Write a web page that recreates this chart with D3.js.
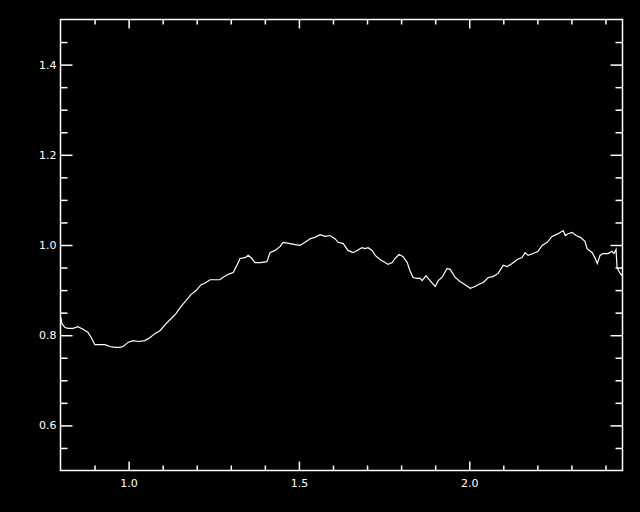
<!DOCTYPE html>
<html>
<head>
<meta charset="utf-8">
<script src="https://cdn.jsdelivr.net/npm/d3@7"></script>
<style>
  html, body { margin: 0; padding: 0; background: #000; }
  svg { display: block; }
</style>
</head>
<body>
<script>
// ---- data ----
const xValues = [0.801,0.804,0.813,0.822,0.837,0.851,0.866,0.881,0.890,0.901,0.916,0.931,0.945,0.960,0.975,0.984,0.998,1.013,1.028,1.048,1.063,1.078,1.092,1.108,1.125,1.139,1.154,1.169,1.183,1.198,1.213,1.224,1.239,1.254,1.268,1.277,1.292,1.307,1.318,1.327,1.342,1.351,1.362,1.371,1.386,1.406,1.415,1.430,1.445,1.453,1.474,1.489,1.503,1.518,1.533,1.547,1.562,1.577,1.591,1.606,1.615,1.630,1.644,1.659,1.671,1.685,1.694,1.703,1.715,1.724,1.738,1.753,1.762,1.774,1.782,1.794,1.806,1.818,1.826,1.835,1.847,1.856,1.862,1.873,1.885,1.900,1.909,1.920,1.935,1.944,1.959,1.973,1.988,2.003,2.017,2.026,2.041,2.056,2.070,2.085,2.100,2.111,2.126,2.141,2.155,2.164,2.173,2.188,2.202,2.214,2.229,2.243,2.255,2.261,2.276,2.282,2.290,2.302,2.314,2.326,2.340,2.346,2.361,2.370,2.376,2.384,2.393,2.408,2.419,2.425,2.431,2.434,2.443,2.449];
const yValues = [0.839,0.826,0.817,0.815,0.815,0.819,0.813,0.806,0.795,0.779,0.779,0.779,0.775,0.773,0.773,0.775,0.784,0.788,0.786,0.788,0.795,0.804,0.810,0.824,0.837,0.848,0.864,0.877,0.890,0.899,0.912,0.915,0.923,0.923,0.923,0.928,0.935,0.939,0.955,0.970,0.972,0.977,0.970,0.961,0.961,0.963,0.983,0.988,0.997,1.006,1.003,1.001,0.999,1.006,1.014,1.017,1.023,1.019,1.021,1.014,1.006,1.003,0.988,0.983,0.988,0.994,0.992,0.994,0.988,0.977,0.968,0.961,0.957,0.961,0.970,0.979,0.974,0.961,0.943,0.928,0.926,0.926,0.921,0.932,0.921,0.908,0.921,0.928,0.948,0.946,0.928,0.919,0.912,0.904,0.908,0.912,0.917,0.928,0.930,0.937,0.955,0.952,0.959,0.968,0.972,0.983,0.977,0.981,0.986,0.999,1.006,1.019,1.023,1.025,1.032,1.021,1.025,1.028,1.021,1.017,1.008,0.992,0.983,0.970,0.959,0.977,0.981,0.981,0.986,0.981,0.990,0.950,0.937,0.932];

const xMajorTicks = [1.0, 1.5, 2.0];
const xMinorTicks = [0.9,1.1,1.2,1.3,1.4,1.6,1.7,1.8,1.9,2.1,2.2,2.3,2.4];
const yMajorTicks = [0.6, 0.8, 1.0, 1.2, 1.4];
const yMinorTicks = [0.55,0.65,0.7,0.75,0.85,0.9,0.95,1.05,1.1,1.15,1.25,1.3,1.35,1.45];

// ---- layout ----
const W = 640, H = 512;
const L = 60.5, R = 622.5, T = 19.5, B = 470.5;

const svg = d3.select("body").append("svg")
  .attr("width", W).attr("height", H)
  .style("background", "#000");

const x = d3.scaleLinear().domain([0.8, 2.45]).range([L, R]);
const y = d3.scaleLinear().domain([0.5, 1.5]).range([B, T]);

const fmt = d3.format(".1f");
const font = "'DejaVu Sans', sans-serif";

function styleAxis(g) {
  g.select(".domain").remove();
  g.selectAll("line").attr("stroke", "#fff").attr("stroke-width", 1.5);
  g.selectAll("text").attr("fill", "#fff").style("font-family", font).style("font-size", "11px");
}

// bottom axis
svg.append("g").attr("transform", `translate(0,${B})`)
  .call(d3.axisBottom(x).tickValues(xMajorTicks).tickSize(-9).tickPadding(9).tickFormat(fmt))
  .call(styleAxis);
svg.append("g").attr("transform", `translate(0,${B})`)
  .call(d3.axisBottom(x).tickValues(xMinorTicks).tickSize(-5).tickFormat(""))
  .call(styleAxis);
// top axis
svg.append("g").attr("transform", `translate(0,${T})`)
  .call(d3.axisTop(x).tickValues(xMajorTicks).tickSize(-9).tickFormat(""))
  .call(styleAxis);
svg.append("g").attr("transform", `translate(0,${T})`)
  .call(d3.axisTop(x).tickValues(xMinorTicks).tickSize(-5).tickFormat(""))
  .call(styleAxis);
// left axis
svg.append("g").attr("transform", `translate(${L},0)`)
  .call(d3.axisLeft(y).tickValues(yMajorTicks).tickSize(-12).tickPadding(4).tickFormat(fmt))
  .call(styleAxis);
svg.append("g").attr("transform", `translate(${L},0)`)
  .call(d3.axisLeft(y).tickValues(yMinorTicks).tickSize(-7).tickFormat(""))
  .call(styleAxis);
// right axis
svg.append("g").attr("transform", `translate(${R},0)`)
  .call(d3.axisRight(y).tickValues(yMajorTicks).tickSize(-12).tickFormat(""))
  .call(styleAxis);
svg.append("g").attr("transform", `translate(${R},0)`)
  .call(d3.axisRight(y).tickValues(yMinorTicks).tickSize(-7).tickFormat(""))
  .call(styleAxis);

// frame
svg.append("rect")
  .attr("x", L).attr("y", T).attr("width", R - L).attr("height", B - T)
  .attr("fill", "none").attr("stroke", "#fff").attr("stroke-width", 1.5);

// data line
const pts = xValues.map((v, i) => [v, yValues[i]]);
svg.append("path")
  .datum(pts)
  .attr("fill", "none")
  .attr("stroke", "#fff")
  .attr("stroke-width", 1.2)
  .attr("d", d3.line().x(d => x(d[0])).y(d => y(d[1])));
</script>
</body>
</html>
